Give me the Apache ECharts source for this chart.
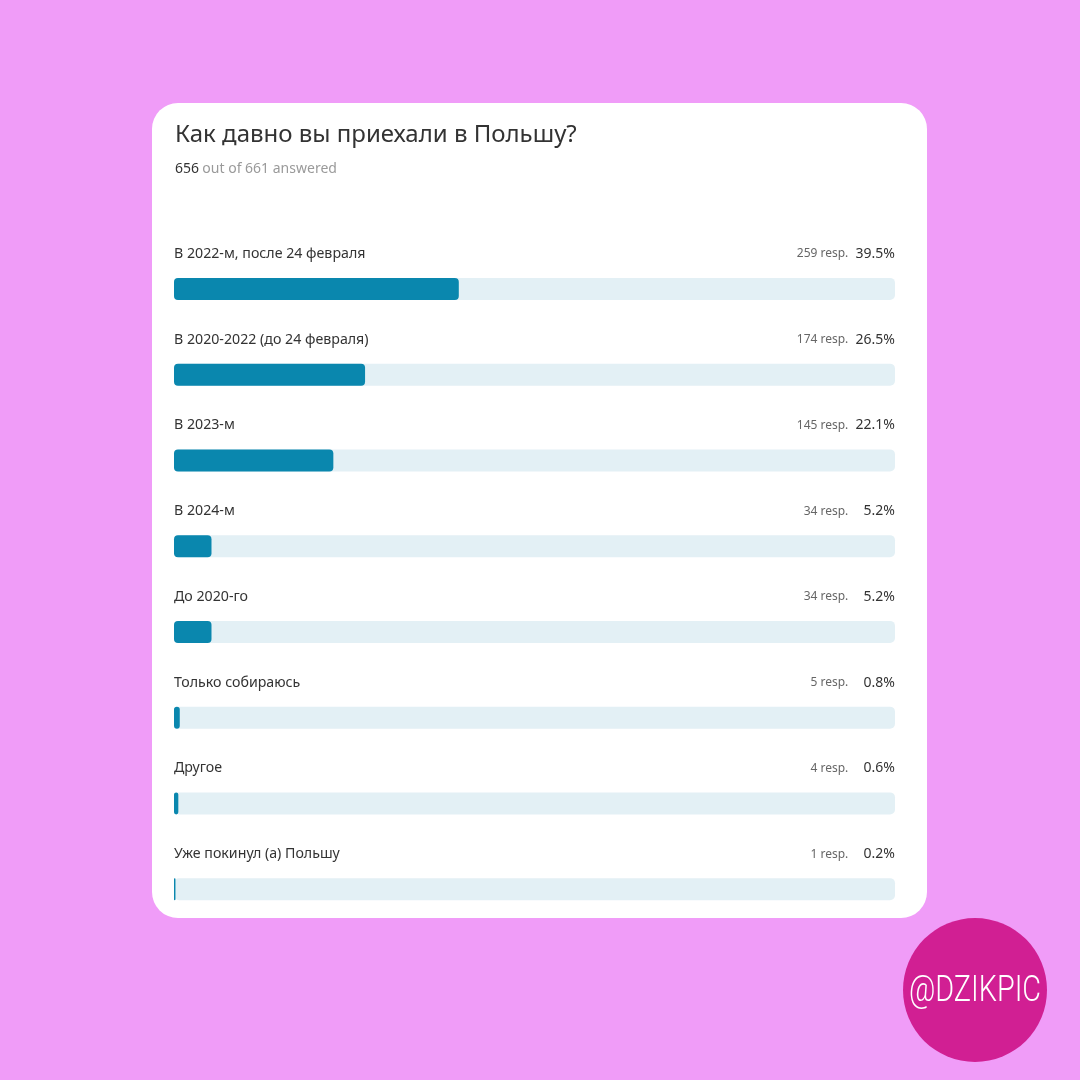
<!DOCTYPE html>
<html><head><meta charset="utf-8">
<script src="https://cdn.jsdelivr.net/npm/echarts@6/dist/echarts.min.js"></script>
<style>html,body{margin:0;padding:0;background:#F09CF8;}#c{width:1080px;height:1080px;}</style>
</head><body><div id="c"></div>
<script>
const categories = ['В 2022-м, после 24 февраля','В 2020-2022 (до 24 февраля)','В 2023-м','В 2024-м','До 2020-го','Только собираюсь','Другое','Уже покинул (а) Польшу'];
const responses = [259,174,145,34,34,5,4,1];
const percents = [39.5,26.5,22.1,5.2,5.2,0.8,0.6,0.2];
const answered = 656, total = 661;
const titleText = 'Как давно вы приехали в Польшу?';
const handle = '@DZIKPIC';

const FONT = 'Noto Sans';
const chart = echarts.init(document.getElementById('c'));
chart.setOption({
  backgroundColor: '#F09CF8',
  animation: false,
  graphic: [
    {type:'rect', z:-10, shape:{x:152,y:103,width:775,height:815,r:26}, style:{fill:'#ffffff'}},
    {type:'text', left:175, top:123, style:{text:titleText, font:'400 24px "Noto Sans"', fill:'#333333'}},
    {type:'text', left:175, top:162, style:{text:'{a|'+answered+'} {b|out of '+total+' answered}', rich:{a:{fontSize:14,fontFamily:FONT,fill:'#333333'},b:{fontSize:14,fontFamily:FONT,fill:'#9a9a9a'}}}},
    {type:'circle', shape:{cx:975,cy:990,r:72}, style:{fill:'#D11F93'}},
    {type:'text', x:975, y:992, scaleX:0.8, style:{text:handle, font:'300 36px "Roboto"', fill:'#ffffff', align:'center', verticalAlign:'middle'}}
  ],
  grid: {left:174, width:721, top:246, bottom:148, containLabel:false},
  xAxis: {type:'value', min:0, max:100, show:false},
  yAxis: {type:'category', data:categories, inverse:true, show:false},
  series: [
    {
      type:'bar', barWidth:22, barGap:'-100%', silent:true,
      data: categories.map(()=>100),
      itemStyle:{color:'#E3F0F5', borderRadius:5},
      label:{show:true, position:[721,-24], align:'right', verticalAlign:'middle',
        formatter:(p)=>'{r|'+responses[p.dataIndex]+' resp.}  {p|'+percents[p.dataIndex]+'%}',
        rich:{r:{fontSize:12,fontFamily:FONT,color:'#666666'},p:{fontSize:14,fontFamily:FONT,color:'#333333',width:40,align:'right'}}}
    },
    {
      type:'bar', barWidth:22, barGap:'-100%',
      data: percents,
      itemStyle:{color:'#0A87AE', borderRadius:4},
      label:{show:true, position:[0,-24], align:'left', verticalAlign:'middle',
        formatter:(p)=>categories[p.dataIndex], fontSize:14.2, fontFamily:FONT, color:'#333333'}
    }
  ]
});
</script></body></html>
